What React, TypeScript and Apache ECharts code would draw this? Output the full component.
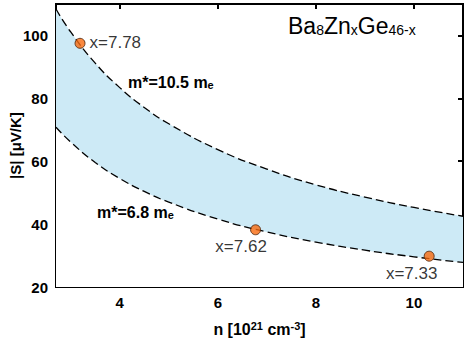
import React, { useEffect, useRef } from "react";
import * as echarts from "echarts";

// carrier concentration n [10^21 cm^-3] at which curves were read
const nValues = [2.7, 3, 3.5, 4, 4.5, 5, 6, 7, 8, 9, 10, 11];
// m* = 10.5 m_e curve (upper), |S| in µV/K
const upperS = [108.4, 101.1, 91.2, 83.4, 77.1, 71.9, 63.7, 57.5, 52.5, 48.6, 45.3, 42.5];
// m* = 6.8 m_e curve (lower)
const lowerS = [70.8, 66.1, 59.6, 54.5, 50.4, 47.0, 41.6, 37.5, 34.3, 31.7, 29.6, 27.8];
// measured samples
const sampleN = [3.19, 6.77, 10.31];
const sampleS = [97.5, 38.2, 29.8];
const sampleLabels = ["x=7.78", "x=7.62", "x=7.33"];
const xTicks = [4, 6, 8, 10];
const yTicks = [20, 40, 60, 80, 100];

const FONT = "'Liberation Sans', Arial, sans-serif";

export default function App() {
  const ref = useRef<HTMLDivElement>(null);
  useEffect(() => {
    document.body.style.margin = "0";
    if (!ref.current) return;
    const chart = echarts.init(ref.current, null, { renderer: "svg" });
    const axisLine = () => ({ show: true, onZero: false, lineStyle: { color: "#000", width: 2 } });
    const tick = (vals: number[]) => ({
      show: true,
      inside: true,
      length: 5,
      lineStyle: { color: "#000", width: 2 },
      customValues: vals,
    });
    const label = (vals: number[], margin: number) => ({
      show: true,
      customValues: vals,
      color: "#000",
      fontFamily: FONT,
      fontWeight: "bold" as const,
      fontSize: 15,
      margin,
    });
    const lowerPairs = nValues.map((n, i) => [n, lowerS[i]]);
    const upperPairs = nValues.map((n, i) => [n, upperS[i]]);
    const labelPos = [
      { position: [15, 5], align: "left" },
      { position: [-9, 22], align: "center" },
      { position: [-12, 23], align: "center" },
    ];
    const curve = {
      type: "line",
      smooth: true,
      symbol: "none",
      clip: false,
    };
    chart.setOption({
      animation: false,
      grid: {
        left: 56,
        right: 3,
        top: 4,
        bottom: 51,
        containLabel: false,
        outerBoundsMode: "none",
        show: true,
        borderColor: "#000",
        borderWidth: 2,
        backgroundColor: "transparent",
      },
      xAxis: [
        {
          type: "value",
          min: 2.7,
          max: 11,
          position: "bottom",
          axisLine: axisLine(),
          axisTick: tick(xTicks),
          axisLabel: label(xTicks, 8),
          splitLine: { show: false },
          name: "n [10{sup|21} cm{sup|-3}]",
          nameLocation: "middle",
          nameGap: 33,
          nameTextStyle: {
            color: "#000",
            fontFamily: FONT,
            fontWeight: "bold",
            fontSize: 16,
            rich: {
              sup: {
                fontFamily: FONT,
                fontWeight: "bold",
                fontSize: 11,
                verticalAlign: "top",
                lineHeight: 18,
                padding: [0, 0, 7, 0],
              },
            },
          },
        },
        {
          type: "value",
          min: 2.7,
          max: 11,
          position: "top",
          axisLine: axisLine(),
          axisTick: tick(xTicks),
          axisLabel: { show: false },
          splitLine: { show: false },
        },
      ],
      yAxis: [
        {
          type: "value",
          min: 20,
          max: 110,
          interval: 20,
          position: "left",
          axisLine: axisLine(),
          axisTick: tick(yTicks),
          axisLabel: label(yTicks, 8),
          splitLine: { show: false },
          name: "|S| [μV/K]",
          nameLocation: "middle",
          nameRotate: 90,
          nameGap: 33,
          nameMoveOverlap: false,
          nameTextStyle: { color: "#000", fontFamily: FONT, fontWeight: "bold", fontSize: 15 },
        },
        {
          type: "value",
          min: 20,
          max: 110,
          interval: 20,
          position: "right",
          axisLine: axisLine(),
          axisTick: tick(yTicks),
          axisLabel: { show: false },
          splitLine: { show: false },
        },
      ],
      series: [
        {
          ...curve,
          data: upperPairs,
          silent: true,
          z: 1,
          lineStyle: { opacity: 0 },
          areaStyle: { color: "#cdeaf6", opacity: 1, origin: "start" },
        },
        {
          ...curve,
          data: lowerPairs,
          silent: true,
          z: 1,
          lineStyle: { opacity: 0 },
          areaStyle: { color: "#ffffff", opacity: 1, origin: "start" },
        },
        {
          ...curve,
          data: upperPairs,
          z: 3,
          lineStyle: { color: "#000", width: 1.3, type: [8, 4] },
        },
        {
          ...curve,
          data: lowerPairs,
          z: 3,
          lineStyle: { color: "#000", width: 1.3, type: [8, 4] },
        },
        {
          type: "scatter",
          symbol: "circle",
          symbolSize: 10,
          clip: false,
          z: 5,
          itemStyle: { color: "#f76a0f", borderColor: "#4a2008", borderWidth: 1 },
          data: sampleN.map((n, i) => ({
            value: [n, sampleS[i]],
            label: {
              show: true,
              formatter: sampleLabels[i],
              position: labelPos[i].position,
              align: labelPos[i].align,
              verticalAlign: "middle",
              color: "#000",
              fontFamily: FONT,
              fontSize: 17,
            },
          })),
        },
      ],
      graphic: [
        {
          type: "text",
          left: 288,
          top: 14,
          z: 20,
          style: {
            text: "Ba{sub|8}Zn{sub|x}Ge{sub|46-x}",
            fill: "#000",
            font: `23px ${FONT}`,
            rich: {
              sub: { fontFamily: FONT, fontSize: 14, verticalAlign: "bottom", lineHeight: 14, padding: [9, 0, 0, 0] },
            },
          },
        },
        {
          type: "text",
          left: 128,
          top: 72,
          z: 20,
          style: {
            text: "m*=10.5 m{sub|e}",
            fill: "#000",
            font: `bold 16px ${FONT}`,
            rich: {
              sub: { fontFamily: FONT, fontWeight: "bold", fontSize: 11, verticalAlign: "bottom", lineHeight: 11, padding: [7, 0, 0, 0] },
            },
          },
        },
        {
          type: "text",
          left: 97,
          top: 202,
          z: 20,
          style: {
            text: "m*=6.8 m{sub|e}",
            fill: "#000",
            font: `bold 16px ${FONT}`,
            rich: {
              sub: { fontFamily: FONT, fontWeight: "bold", fontSize: 11, verticalAlign: "bottom", lineHeight: 11, padding: [7, 0, 0, 0] },
            },
          },
        },
      ],
    });
    return () => chart.dispose();
  }, []);
  return <div ref={ref} style={{ width: 466, height: 338 }} />;
}
